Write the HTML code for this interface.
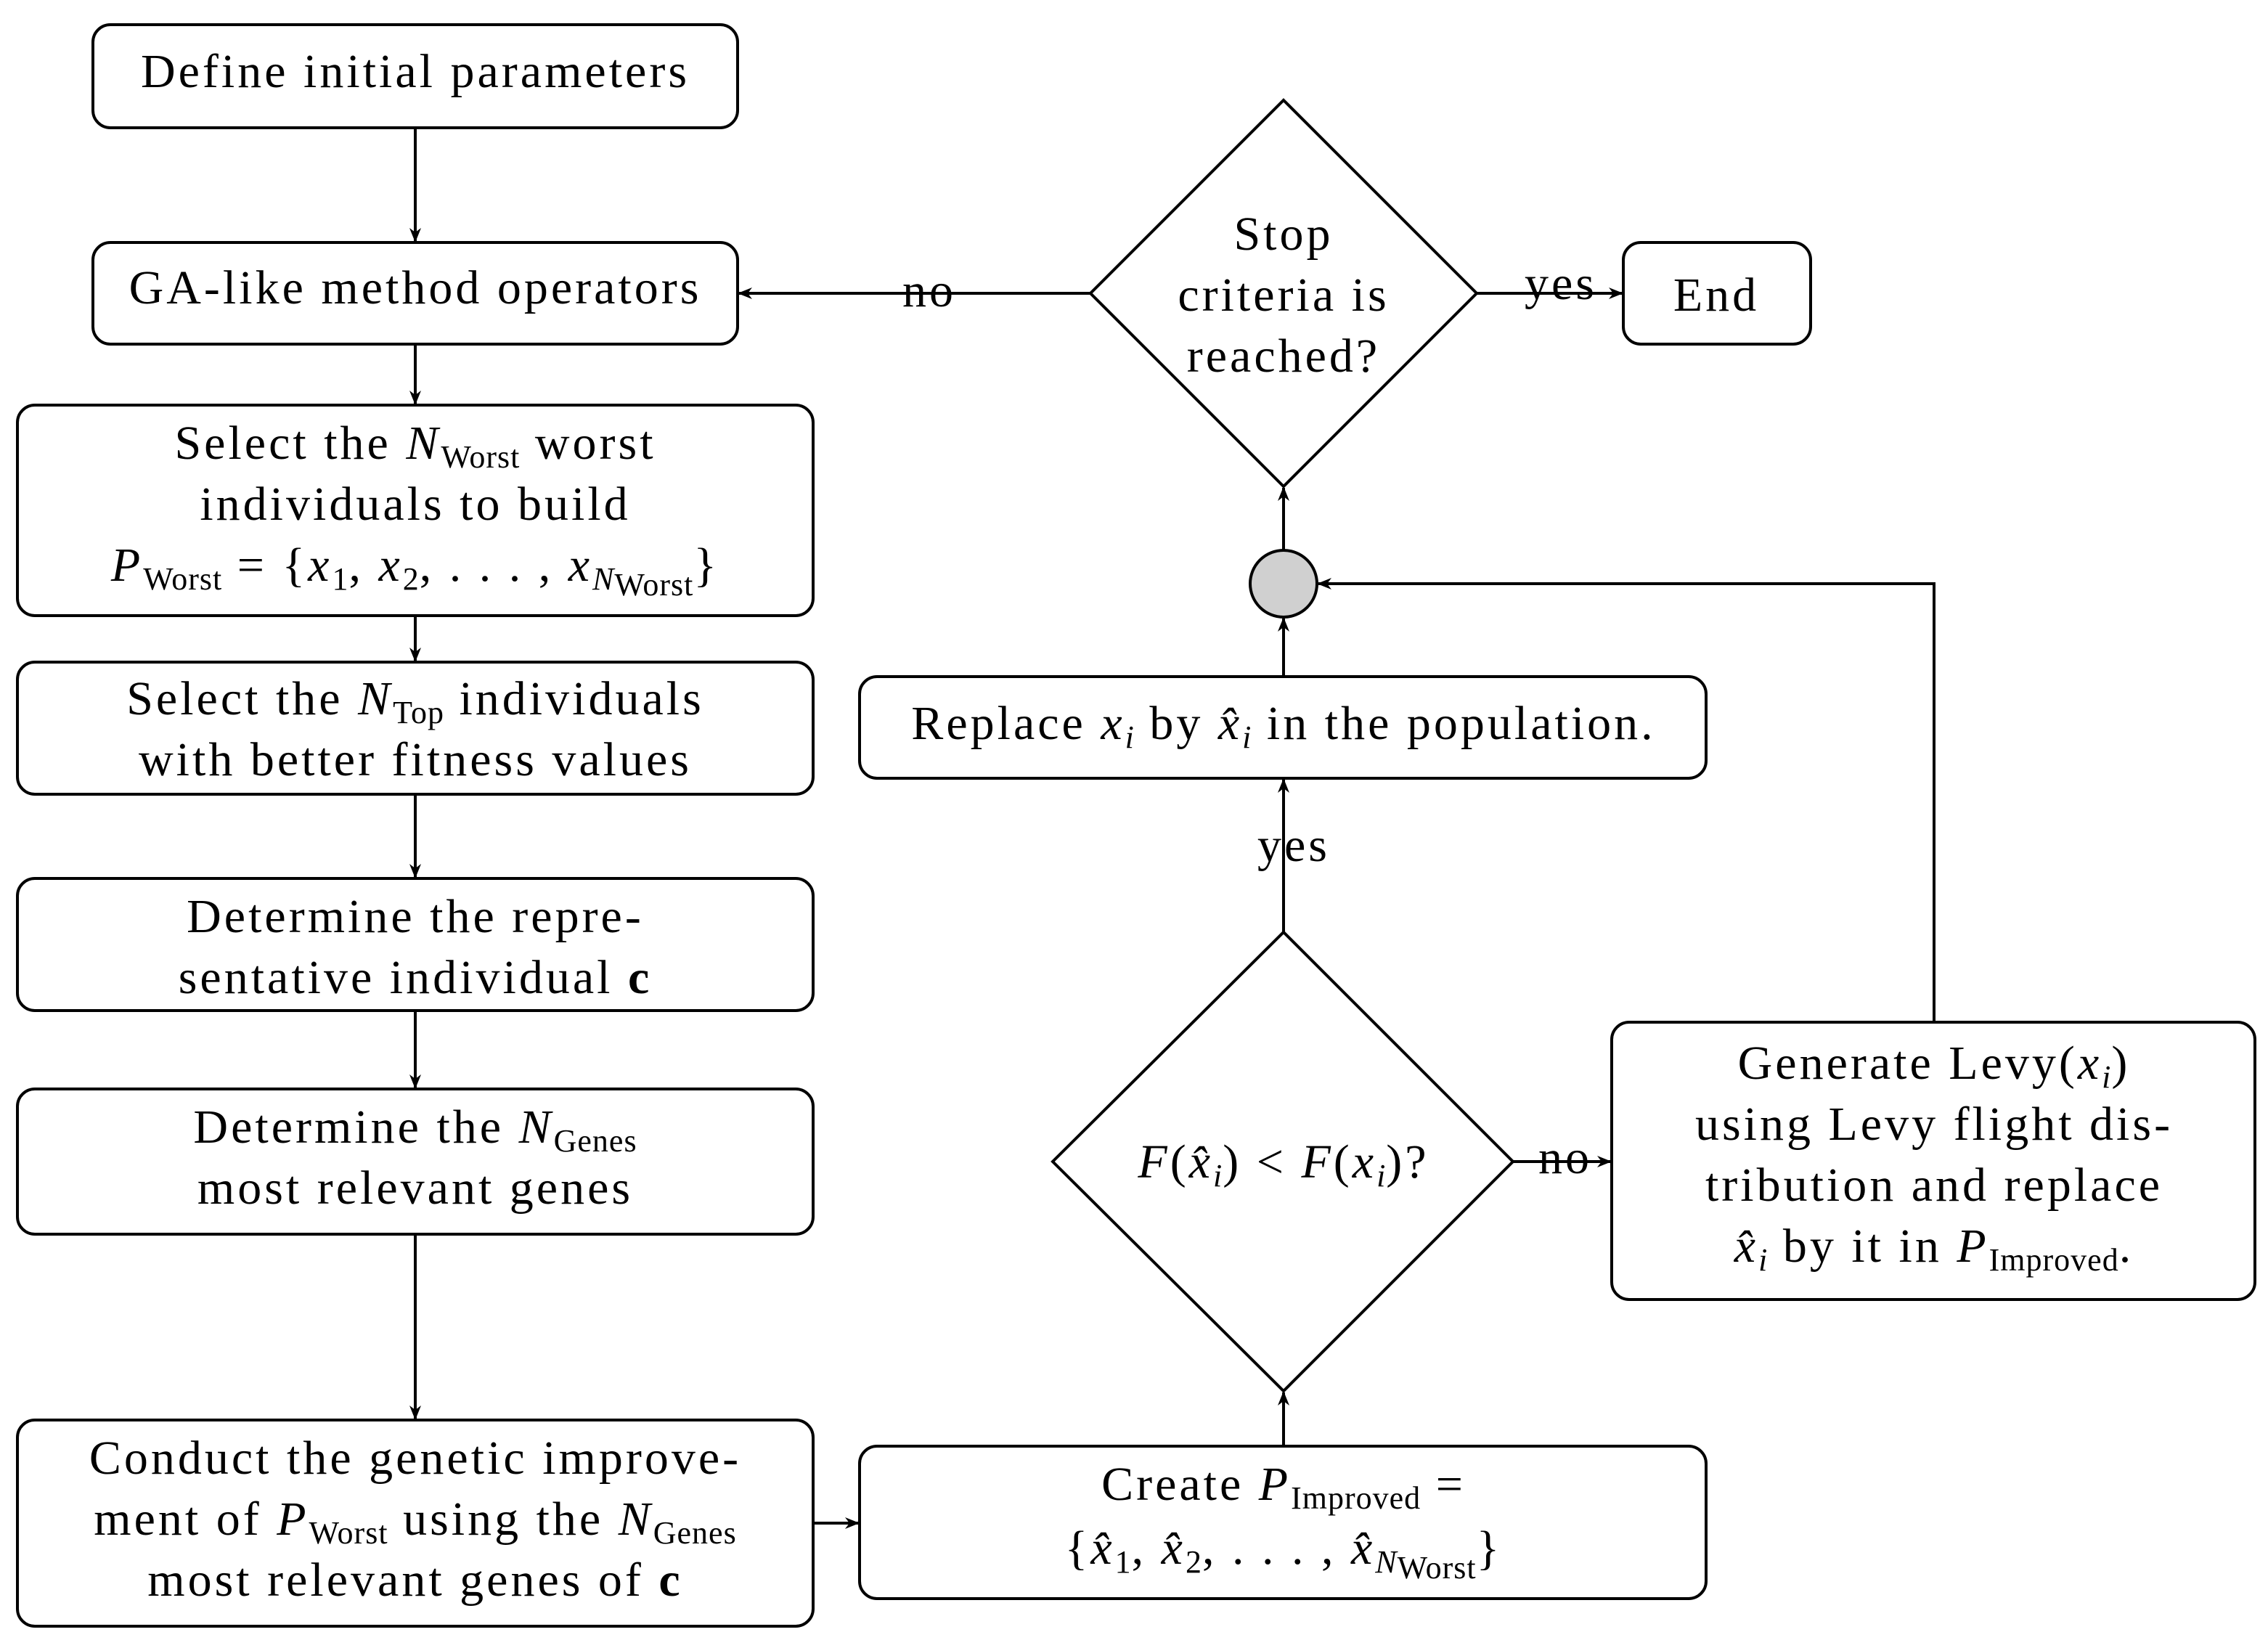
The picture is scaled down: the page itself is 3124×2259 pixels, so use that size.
<!DOCTYPE html>
<html><head><meta charset="utf-8"><style>
html,body{margin:0;padding:0;background:#fff;}
svg{display:block;}
text{font-family:"Liberation Serif",serif;font-size:33px;letter-spacing:2px;fill:#000;}
.i{font-style:italic;}
.s{font-size:22px;letter-spacing:0.5px;}
</style></head><body>
<svg width="3124" height="2259" viewBox="0 0 1562 1129.5" xmlns="http://www.w3.org/2000/svg">
<defs>
<marker id="a" markerWidth="10" markerHeight="8" refX="9" refY="4" orient="auto" markerUnits="userSpaceOnUse">
<path d="M0,0 L10,4 L0,8 L3,4 Z" fill="#000"/>
</marker>
</defs>
<g fill="none" stroke="#000" stroke-width="2">
<rect x="64" y="17" width="444" height="71" rx="12"/>
<rect x="64" y="167" width="444" height="70" rx="12"/>
<rect x="12" y="279" width="548" height="145" rx="12"/>
<rect x="12" y="456" width="548" height="91" rx="12"/>
<rect x="12" y="605" width="548" height="91" rx="12"/>
<rect x="12" y="750" width="548" height="100" rx="12"/>
<rect x="12" y="978" width="548" height="142" rx="12"/>
<rect x="592" y="996" width="583" height="105" rx="12"/>
<rect x="592" y="466" width="583" height="70" rx="12"/>
<rect x="1110" y="704" width="443" height="191" rx="12"/>
<rect x="1118" y="167" width="129" height="70" rx="12"/>
<polygon points="884,642 1042,800 884,958 725,800"/>
<polygon points="884,69 1017,202 884,335 751,202"/>
<circle cx="884" cy="402" r="23" fill="#d0d0d0"/>
</g>
<g fill="none" stroke="#000" stroke-width="2" marker-end="url(#a)">
<line x1="286" y1="88" x2="286" y2="166"/>
<line x1="286" y1="237" x2="286" y2="278"/>
<line x1="286" y1="424" x2="286" y2="455"/>
<line x1="286" y1="547" x2="286" y2="604"/>
<line x1="286" y1="696" x2="286" y2="749"/>
<line x1="286" y1="850" x2="286" y2="977"/>
<line x1="560" y1="1049" x2="591" y2="1049"/>
<line x1="884" y1="996" x2="884" y2="959"/>
<line x1="884" y1="642" x2="884" y2="537"/>
<line x1="884" y1="466" x2="884" y2="426"/>
<line x1="884" y1="379" x2="884" y2="336"/>
<line x1="751" y1="202" x2="509" y2="202"/>
<line x1="1017" y1="202" x2="1117" y2="202"/>
<line x1="1042" y1="800" x2="1109" y2="800"/>
<polyline points="1332,704 1332,402 908,402"/>
</g>
<g text-anchor="middle">
<text x="286" y="60">Define initial parameters</text>
<text x="286" y="209">GA-like method operators</text>
<text x="286" y="316">Select the <tspan class="i">N</tspan><tspan class="s" dy="6">Worst</tspan><tspan dy="-6"> worst</tspan></text>
<text x="286" y="358">individuals to build</text>
<text x="286" y="400"><tspan class="i">P</tspan><tspan class="s" dy="6">Worst</tspan><tspan dy="-6"> = {</tspan><tspan class="i">x</tspan><tspan class="s" dy="6">1</tspan><tspan dy="-6">, </tspan><tspan class="i">x</tspan><tspan class="s" dy="6">2</tspan><tspan dy="-6">, . . . , </tspan><tspan class="i">x</tspan><tspan class="s" dy="6" font-style="italic">N</tspan><tspan class="s" dy="4" font-size="16">Worst</tspan><tspan dy="-10">}</tspan></text>
<text x="286" y="492">Select the <tspan class="i">N</tspan><tspan class="s" dy="6">Top</tspan><tspan dy="-6"> individuals</tspan></text>
<text x="286" y="534">with better fitness values</text>
<text x="286" y="642">Determine the repre-</text>
<text x="286" y="684">sentative individual <tspan font-weight="bold">c</tspan></text>
<text x="286" y="787">Determine the <tspan class="i">N</tspan><tspan class="s" dy="6">Genes</tspan></text>
<text x="286" y="829">most relevant genes</text>
<text x="286" y="1015">Conduct the genetic improve-</text>
<text x="286" y="1057">ment of <tspan class="i">P</tspan><tspan class="s" dy="6">Worst</tspan><tspan dy="-6"> using the </tspan><tspan class="i">N</tspan><tspan class="s" dy="6">Genes</tspan></text>
<text x="286" y="1099">most relevant genes of <tspan font-weight="bold">c</tspan></text>
<text x="884" y="1033">Create <tspan class="i">P</tspan><tspan class="s" dy="6">Improved</tspan><tspan dy="-6">   =</tspan></text>
<text x="884" y="1077">{<tspan class="i">x̂</tspan><tspan class="s" dy="6">1</tspan><tspan dy="-6">, </tspan><tspan class="i">x̂</tspan><tspan class="s" dy="6">2</tspan><tspan dy="-6">, . . . , </tspan><tspan class="i">x̂</tspan><tspan class="s" dy="6" font-style="italic">N</tspan><tspan class="s" dy="4" font-size="16">Worst</tspan><tspan dy="-10">}</tspan></text>
<text x="884" y="509">Replace <tspan class="i">x</tspan><tspan class="s i" dy="6">i</tspan><tspan dy="-6"> by </tspan><tspan class="i">x̂</tspan><tspan class="s i" dy="6">i</tspan><tspan dy="-6"> in the population.</tspan></text>
<text x="884" y="811"><tspan class="i">F</tspan>(<tspan class="i">x̂</tspan><tspan class="s i" dy="6">i</tspan><tspan dy="-6">) &lt; </tspan><tspan class="i">F</tspan>(<tspan class="i">x</tspan><tspan class="s i" dy="6">i</tspan><tspan dy="-6">)?</tspan></text>
<text x="1332" y="743">Generate Levy(<tspan class="i">x</tspan><tspan class="s i" dy="6">i</tspan><tspan dy="-6">)</tspan></text>
<text x="1332" y="785">using Levy flight dis-</text>
<text x="1332" y="827">tribution and replace</text>
<text x="1332" y="869"><tspan class="i">x̂</tspan><tspan class="s i" dy="6">i</tspan><tspan dy="-6"> by it in </tspan><tspan class="i">P</tspan><tspan class="s" dy="6">Improved</tspan><tspan dy="-6">.</tspan></text>
<text x="884" y="172">Stop</text>
<text x="884" y="214">criteria is</text>
<text x="884" y="256">reached?</text>
<text x="1182" y="214">End</text>
<text x="640" y="211">no</text>
<text x="1075" y="206">yes</text>
<text x="891" y="593">yes</text>
<text x="1078" y="808">no</text>
</g>
</svg>
</body></html>
